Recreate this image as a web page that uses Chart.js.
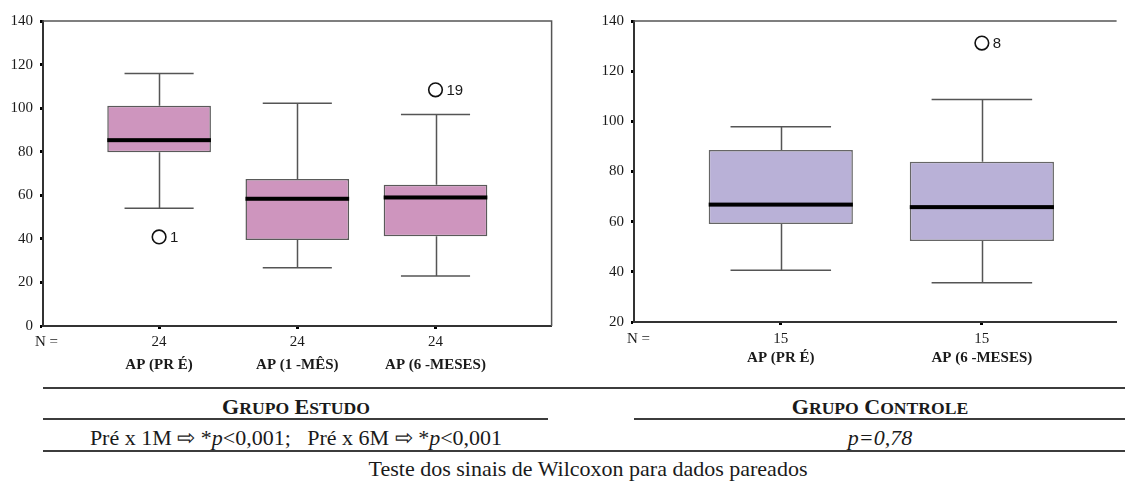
<!DOCTYPE html>
<html>
<head>
<meta charset="utf-8">
<script src="https://cdn.jsdelivr.net/npm/chart.js@4.4.1/dist/chart.umd.min.js"></script>
<style>
html,body{margin:0;padding:0;background:#fff;}
body{width:1125px;height:481px;overflow:hidden;position:relative;font-family:"Liberation Serif","Times New Roman",serif;color:#1a1a1a;}
#w1{position:absolute;left:0;top:0;width:560px;height:380px;}
#w2{position:absolute;left:570px;top:0;width:555px;height:380px;}
.ln{position:absolute;height:2px;background:#3c3c3c;}
.tx{position:absolute;white-space:nowrap;transform:translate(-50%,-50%);line-height:1;}
.hd{font-weight:bold;font-size:22px;}
.hd .s{font-size:17.6px;}
.row{font-size:22px;}
</style>
</head>
<body>
<div id="w1"><canvas id="c1" width="560" height="380"></canvas></div>
<div id="w2"><canvas id="c2" width="555" height="380"></canvas></div>

<div class="ln" style="left:43px;top:387px;width:1082px;"></div>
<div class="tx hd" style="left:296px;top:407px;">G<span class="s">RUPO</span> E<span class="s">STUDO</span></div>
<div class="tx hd" style="left:880px;top:407px;">G<span class="s">RUPO</span> C<span class="s">ONTROLE</span></div>
<div class="ln" style="left:43px;top:418px;width:505px;"></div>
<div class="ln" style="left:634px;top:418px;width:491px;"></div>
<div class="tx row" style="left:296px;top:438px;">Pré x 1M ⇨ *<i>p</i>&lt;0,001;&nbsp;&nbsp; Pré x 6M ⇨ *<i>p</i>&lt;0,001</div>
<div class="tx row" style="left:880px;top:438px;"><i>p=0,78</i></div>
<div class="ln" style="left:43px;top:450px;width:1082px;"></div>
<div class="tx row" style="left:588px;top:469px;">Teste dos sinais de Wilcoxon para dados pareados</div>

<script>
// ---- Grupo Estudo ----
const studyLabels = ['AP (PR É)', 'AP (1 -MÊS)', 'AP (6 -MESES)'];
const studyN = [24, 24, 24];
const studyWhiskerLow = [54.1, 26.7, 23.0];
const studyQ1 = [79.8, 39.5, 41.2];
const studyMedian = [85.3, 58.4, 59.0];
const studyQ3 = [101.1, 67.5, 64.8];
const studyWhiskerHigh = [115.9, 102.2, 97.1];
const studyOutlierPos = [1, 3];
const studyOutlierValues = [40.9, 108.4];
const studyOutlierIds = ['1', '19'];

// ---- Grupo Controle ----
const controlLabels = ['AP (PR É)', 'AP (6 -MESES)'];
const controlN = [15, 15];
const controlWhiskerLow = [40.6, 35.6];
const controlQ1 = [59.1, 52.3];
const controlMedian = [66.8, 65.8];
const controlQ3 = [88.6, 83.9];
const controlWhiskerHigh = [97.8, 108.7];
const controlOutlierPos = [2];
const controlOutlierValues = [131.2];
const controlOutlierIds = ['8'];

const SERIF = '"Liberation Serif", "Times New Roman", serif';
const SANS = '"Liberation Sans", Arial, sans-serif';

const boxExtras = {
  id: 'boxExtras',
  beforeDatasetsDraw(chart, args, o) {
    const {ctx, chartArea: a, scales: {x, y}} = chart;
    const d = o.d;
    ctx.save();
    ctx.strokeStyle = '#555';
    ctx.lineWidth = 1.5;
    ctx.beginPath();
    ctx.moveTo(a.left, a.top);
    ctx.lineTo(a.right, a.top);
    if (o.rightBorder) ctx.lineTo(a.right, a.bottom);
    ctx.stroke();
    ctx.strokeStyle = '#555';
    ctx.lineWidth = 1.5;
    d.q1.forEach((_, i) => {
      const pos = i + 1;
      const cx = Math.round(x.getPixelForValue(pos)) + 0.5;
      const cl = x.getPixelForValue(pos - o.capHalf);
      const cr = x.getPixelForValue(pos + o.capHalf);
      const yHi = y.getPixelForValue(d.hi[i]);
      const yQ3 = y.getPixelForValue(d.q3[i]);
      const yQ1 = y.getPixelForValue(d.q1[i]);
      const yLo = y.getPixelForValue(d.lo[i]);
      ctx.beginPath();
      ctx.moveTo(cx, yHi); ctx.lineTo(cx, yQ3);
      ctx.moveTo(cx, yQ1); ctx.lineTo(cx, yLo);
      ctx.moveTo(cl, yHi); ctx.lineTo(cr, yHi);
      ctx.moveTo(cl, yLo); ctx.lineTo(cr, yLo);
      ctx.stroke();
    });
    ctx.restore();
  },
  afterDatasetsDraw(chart, args, o) {
    const {ctx, scales: {x, y}} = chart;
    const d = o.d;
    ctx.save();
    const bars = chart.getDatasetMeta(0).data;
    ctx.fillStyle = '#000';
    bars.forEach((bar, i) => {
      const ym = y.getPixelForValue(d.med[i]);
      ctx.fillRect(bar.x - bar.width / 2, ym - 2, bar.width, 4);
    });
    const pts = chart.getDatasetMeta(1).data;
    ctx.fillStyle = '#1a1a1a';
    ctx.font = '15px ' + SANS;
    ctx.textAlign = 'left';
    ctx.textBaseline = 'middle';
    pts.forEach((pt, i) => {
      ctx.fillText(d.ids[i], pt.x + 11, pt.y + 1);
    });
    ctx.font = '15px ' + SERIF;
    ctx.fillText('N =', o.nX, x.top + 3 + o.nPad + 9);
    ctx.restore();
  }
};

function buildBoxChart(id, d, o) {
  const positions = d.labels.map((_, i) => i + 1);
  const boxes = positions.map((p, i) => ({x: p, y: [d.q1[i], d.q3[i]]}));
  const outliers = d.outPos.map((p, i) => ({x: p, y: d.outVal[i]}));
  const setTicks = s => { s.ticks = positions.map(v => ({value: v})); };
  return new Chart(document.getElementById(id), {
    type: 'bar',
    data: {
      datasets: [
        {type: 'bar', data: boxes, backgroundColor: o.fill, borderColor: o.edge, borderWidth: 1.5,
         borderSkipped: false, barPercentage: o.boxWidth, categoryPercentage: 1, order: 2},
        {type: 'scatter', data: outliers, pointStyle: 'circle', pointRadius: 6.8, pointBorderWidth: 1.6,
         pointBorderColor: '#111', pointBackgroundColor: 'rgba(0,0,0,0)', order: 1}
      ]
    },
    plugins: [boxExtras],
    options: {
      responsive: false,
      animation: false,
      devicePixelRatio: 1,
      layout: {padding: {top: 21, right: o.padR, left: 0, bottom: 0}},
      plugins: {
        legend: {display: false},
        tooltip: {enabled: false},
        boxExtras: {d: d, capHalf: 0.25, rightBorder: o.rightBorder, nX: o.nX, nPad: o.nPad}
      },
      scales: {
        x: {
          type: 'linear', position: 'bottom', weight: 0, min: o.xMin, max: o.xMax, offset: false,
          afterBuildTicks: setTicks,
          afterFit: s => { s.height = o.xH; },
          ticks: {callback: (v, i) => String(d.n[i]), font: {family: SERIF, size: 15}, color: '#1a1a1a',
                  padding: o.nPad, maxRotation: 0, autoSkip: false},
          grid: {drawOnChartArea: false, drawTicks: true, tickLength: 3, tickWidth: 3, tickColor: '#000', offset: false},
          border: {display: true, color: '#333', width: 2}
        },
        x2: {
          type: 'linear', position: 'bottom', weight: 1, min: o.xMin, max: o.xMax, offset: false,
          afterBuildTicks: setTicks,
          afterFit: s => { s.height = o.x2H; },
          ticks: {callback: (v, i) => d.labels[i], font: {family: SERIF, size: 15, weight: 'bold'}, color: '#1a1a1a',
                  padding: o.labPad, maxRotation: 0, autoSkip: false},
          grid: {display: false, drawTicks: false},
          border: {display: false}
        },
        y: {
          type: 'linear', min: o.yMin, max: 140,
          afterFit: s => { s.width = o.yW; },
          ticks: {stepSize: 20, font: {family: SERIF, size: 15}, color: '#1a1a1a', padding: 7},
          grid: {drawOnChartArea: false, drawTicks: true, tickLength: 3, tickWidth: 3, tickColor: '#000'},
          border: {display: true, color: '#333', width: 2}
        }
      }
    }
  });
}

buildBoxChart('c1', {
  labels: studyLabels, n: studyN, lo: studyWhiskerLow, q1: studyQ1, med: studyMedian,
  q3: studyQ3, hi: studyWhiskerHigh, outPos: studyOutlierPos, outVal: studyOutlierValues, ids: studyOutlierIds
}, {
  fill: '#CE95BE', edge: '#5a5a5a', boxWidth: 0.75, padR: 7, rightBorder: true,
  xMin: 0.16, xMax: 3.84, yMin: 0, yW: 43, xH: 26, x2H: 28, nPad: 4, labPad: 4, nX: 35
});

buildBoxChart('c2', {
  labels: controlLabels, n: controlN, lo: controlWhiskerLow, q1: controlQ1, med: controlMedian,
  q3: controlQ3, hi: controlWhiskerHigh, outPos: controlOutlierPos, outVal: controlOutlierValues, ids: controlOutlierIds
}, {
  fill: '#B9B1D7', edge: '#666', boxWidth: 0.717, padR: 0, rightBorder: false,
  xMin: 0.27, xMax: 2.67, yMin: 20, yW: 64, xH: 25, x2H: 33, nPad: 5, labPad: 2, nX: 57
});
</script>
</body>
</html>
